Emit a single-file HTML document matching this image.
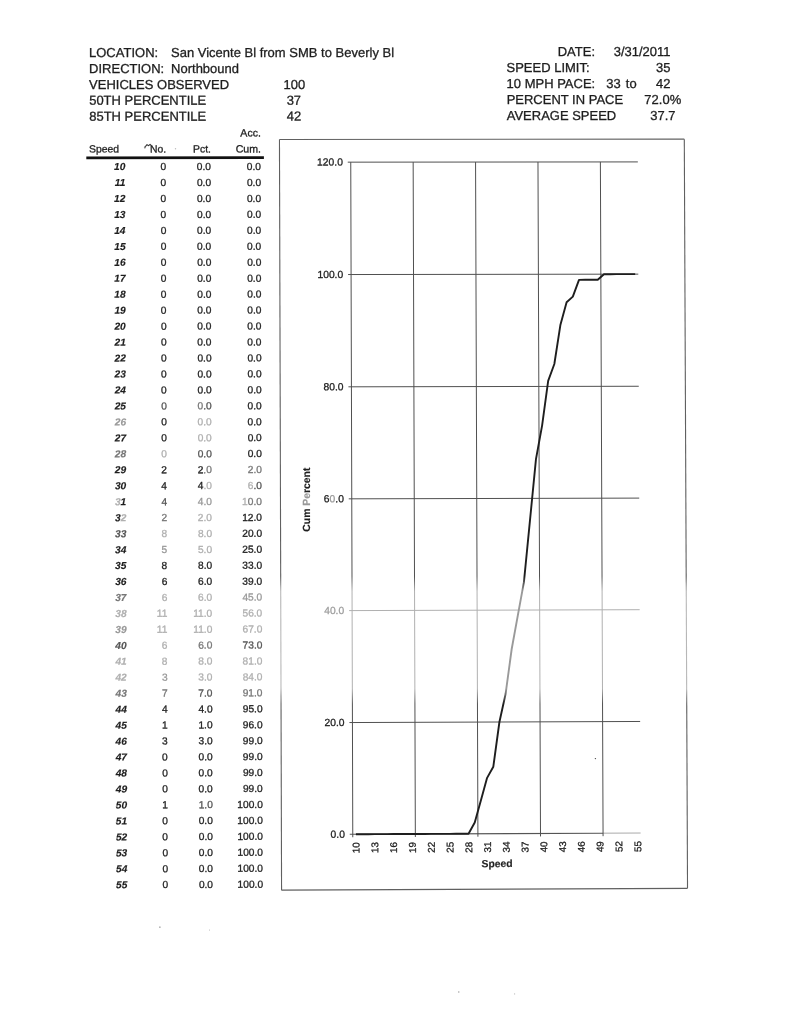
<!DOCTYPE html>
<html><head><meta charset="utf-8"><title>Speed Survey</title>
<style>
html,body{margin:0;padding:0;background:#fff;}
body{width:790px;height:1023px;overflow:hidden;}
svg{display:block;}
text{font-family:"Liberation Sans",Arial,sans-serif;}
</style></head>
<body>
<svg width="790" height="1023" viewBox="0 0 790 1023">
<g font-size="10.2" fill="#1e1e1e" stroke="#1e1e1e" stroke-width="0">
<text transform="matrix(1 -0.00028 0.00280 1 89.03 56.71)" font-size="13.0" stroke-width="0.3">LOCATION:</text>
<text transform="matrix(1 -0.00028 0.00280 1 171.03 56.69)" font-size="13.0" stroke-width="0.3">San Vicente Bl from SMB to Beverly Bl</text>
<text transform="matrix(1 -0.00036 0.00280 1 89.07 72.84)" font-size="13.0" stroke-width="0.3">DIRECTION:</text>
<text transform="matrix(1 -0.00036 0.00280 1 171.07 72.81)" font-size="13.0" stroke-width="0.3">Northbound</text>
<text transform="matrix(1 -0.00044 0.00280 1 89.12 88.77)" font-size="13.0" stroke-width="0.3">VEHICLES OBSERVED</text>
<text transform="matrix(1 -0.00044 0.00280 1 294.32 88.68)" text-anchor="middle" font-size="13.0" stroke-width="0.3">100</text>
<text transform="matrix(1 -0.00052 0.00280 1 89.16 104.80)" font-size="13.0" stroke-width="0.3">50TH PERCENTILE</text>
<text transform="matrix(1 -0.00052 0.00280 1 293.86 104.70)" text-anchor="middle" font-size="13.0" stroke-width="0.3">37</text>
<text transform="matrix(1 -0.00061 0.00280 1 89.21 120.74)" font-size="13.0" stroke-width="0.3">85TH PERCENTILE</text>
<text transform="matrix(1 -0.00061 0.00280 1 293.91 120.61)" text-anchor="middle" font-size="13.0" stroke-width="0.3">42</text>
<text transform="matrix(1 -0.00028 0.00396 1 595.00 56.07)" text-anchor="end" font-size="13.0" stroke-width="0.3">DATE:</text>
<text transform="matrix(1 -0.00028 0.00425 1 670.56 56.05)" text-anchor="end" font-size="13.0" stroke-width="0.3">3/31/2011</text>
<text transform="matrix(1 -0.00036 0.00361 1 506.51 72.19)" font-size="13.0" stroke-width="0.3">SPEED LIMIT:</text>
<text transform="matrix(1 -0.00036 0.00422 1 663.14 72.13)" text-anchor="middle" font-size="13.0" stroke-width="0.3">35</text>
<text transform="matrix(1 -0.00044 0.00361 1 506.57 88.09)" font-size="13.0" stroke-width="0.3">10 MPH PACE:</text>
<text transform="matrix(1 -0.00044 0.00400 1 606.31 88.04)" font-size="13.0" stroke-width="0.3">33</text>
<text transform="matrix(1 -0.00044 0.00408 1 625.77 88.04)" font-size="13.0" stroke-width="0.3">to</text>
<text transform="matrix(1 -0.00044 0.00422 1 663.21 88.02)" text-anchor="middle" font-size="13.0" stroke-width="0.3">42</text>
<text transform="matrix(1 -0.00052 0.00361 1 506.63 104.09)" font-size="13.0" stroke-width="0.3">PERCENT IN PACE</text>
<text transform="matrix(1 -0.00052 0.00422 1 662.78 104.00)" text-anchor="middle" font-size="13.0" stroke-width="0.3">72.0%</text>
<text transform="matrix(1 -0.00060 0.00361 1 506.69 119.98)" font-size="13.0" stroke-width="0.3">AVERAGE SPEED</text>
<text transform="matrix(1 -0.00060 0.00422 1 662.85 119.89)" text-anchor="middle" font-size="13.0" stroke-width="0.3">37.7</text>
<text transform="matrix(1 -0.00069 0.00280 1 260.95 136.55)" text-anchor="end" font-size="10.6" stroke-width="0.3">Acc.</text>
<text transform="matrix(1 -0.00077 0.00280 1 88.99 152.60)" font-size="10.4" stroke-width="0.3">Speed</text>
<text transform="matrix(1 -0.00077 0.00280 1 166.09 152.54)" text-anchor="end" font-size="10.4" stroke-width="0.3">No.</text>
<text transform="matrix(1 -0.00077 0.00280 1 210.99 152.51)" text-anchor="end" font-size="10.4" stroke-width="0.3">Pct.</text>
<text transform="matrix(1 -0.00077 0.00280 1 260.99 152.47)" text-anchor="end" font-size="10.6" stroke-width="0.3">Cum.</text>
<path d="M144.3 147.9 L147.0 144.6 L148.6 145.7 L150.1 144.3 L151.4 145.6" fill="none" stroke="#333" stroke-width="1.05" stroke-linejoin="round"/>
<circle cx="144.9" cy="147.4" r="1.0" fill="#888"/>
<circle cx="175.5" cy="148.8" r="0.7" fill="#bbb"/>
<line x1="86.31" y1="157.81" x2="263.91" y2="157.67" stroke="#111" stroke-width="2.8"/>
<text transform="matrix(1 -0.00086 0.00280 1 125.34 170.10)" text-anchor="end" font-weight="bold" stroke-width="0.15" font-style="italic">10</text>
<text transform="matrix(1 -0.00086 0.00280 1 166.14 170.07)" text-anchor="end" stroke-width="0.3">0</text>
<text transform="matrix(1 -0.00086 0.00280 1 211.04 170.03)" text-anchor="end" stroke-width="0.3">0.0</text>
<text transform="matrix(1 -0.00086 0.00280 1 261.04 169.99)" text-anchor="end" stroke-width="0.3">0.0</text>
<text transform="matrix(1 -0.00094 0.00280 1 125.39 186.06)" text-anchor="end" font-weight="bold" stroke-width="0.15" font-style="italic">11</text>
<text transform="matrix(1 -0.00094 0.00280 1 166.19 186.02)" text-anchor="end" stroke-width="0.3">0</text>
<text transform="matrix(1 -0.00094 0.00280 1 211.09 185.98)" text-anchor="end" stroke-width="0.3">0.0</text>
<text transform="matrix(1 -0.00094 0.00280 1 261.09 185.93)" text-anchor="end" stroke-width="0.3">0.0</text>
<text transform="matrix(1 -0.00102 0.00280 1 125.43 202.02)" text-anchor="end" font-weight="bold" stroke-width="0.15" font-style="italic">12</text>
<text transform="matrix(1 -0.00102 0.00280 1 166.23 201.98)" text-anchor="end" stroke-width="0.3">0</text>
<text transform="matrix(1 -0.00102 0.00280 1 211.13 201.93)" text-anchor="end" stroke-width="0.3">0.0</text>
<text transform="matrix(1 -0.00102 0.00280 1 261.13 201.88)" text-anchor="end" stroke-width="0.3">0.0</text>
<text transform="matrix(1 -0.00110 0.00280 1 125.48 217.98)" text-anchor="end" font-weight="bold" stroke-width="0.15" font-style="italic">13</text>
<text transform="matrix(1 -0.00110 0.00280 1 166.28 217.93)" text-anchor="end" stroke-width="0.3">0</text>
<text transform="matrix(1 -0.00110 0.00280 1 211.18 217.89)" text-anchor="end" stroke-width="0.3">0.0</text>
<text transform="matrix(1 -0.00110 0.00280 1 261.18 217.83)" text-anchor="end" stroke-width="0.3">0.0</text>
<text transform="matrix(1 -0.00118 0.00280 1 125.52 233.94)" text-anchor="end" font-weight="bold" stroke-width="0.15" font-style="italic">14</text>
<text transform="matrix(1 -0.00118 0.00280 1 166.32 233.89)" text-anchor="end" stroke-width="0.3">0</text>
<text transform="matrix(1 -0.00118 0.00280 1 211.22 233.84)" text-anchor="end" stroke-width="0.3">0.0</text>
<text transform="matrix(1 -0.00118 0.00280 1 261.22 233.78)" text-anchor="end" stroke-width="0.3">0.0</text>
<text transform="matrix(1 -0.00126 0.00280 1 125.57 249.90)" text-anchor="end" font-weight="bold" stroke-width="0.15" font-style="italic">15</text>
<text transform="matrix(1 -0.00126 0.00280 1 166.37 249.85)" text-anchor="end" stroke-width="0.3">0</text>
<text transform="matrix(1 -0.00126 0.00280 1 211.27 249.79)" text-anchor="end" stroke-width="0.3">0.0</text>
<text transform="matrix(1 -0.00126 0.00280 1 261.27 249.73)" text-anchor="end" stroke-width="0.3">0.0</text>
<text transform="matrix(1 -0.00134 0.00280 1 125.61 265.86)" text-anchor="end" font-weight="bold" stroke-width="0.15" font-style="italic">16</text>
<text transform="matrix(1 -0.00134 0.00280 1 166.41 265.80)" text-anchor="end" stroke-width="0.3">0</text>
<text transform="matrix(1 -0.00134 0.00280 1 211.31 265.74)" text-anchor="end" stroke-width="0.3">0.0</text>
<text transform="matrix(1 -0.00134 0.00280 1 261.31 265.67)" text-anchor="end" stroke-width="0.3">0.0</text>
<text transform="matrix(1 -0.00143 0.00280 1 125.66 281.81)" text-anchor="end" font-weight="bold" stroke-width="0.15" font-style="italic">17</text>
<text transform="matrix(1 -0.00143 0.00280 1 166.46 281.76)" text-anchor="end" stroke-width="0.3">0</text>
<text transform="matrix(1 -0.00143 0.00280 1 211.36 281.69)" text-anchor="end" stroke-width="0.3">0.0</text>
<text transform="matrix(1 -0.00143 0.00280 1 261.36 281.62)" text-anchor="end" stroke-width="0.3">0.0</text>
<text transform="matrix(1 -0.00151 0.00280 1 125.70 297.77)" text-anchor="end" font-weight="bold" stroke-width="0.15" font-style="italic">18</text>
<text transform="matrix(1 -0.00151 0.00280 1 166.50 297.71)" text-anchor="end" stroke-width="0.3">0</text>
<text transform="matrix(1 -0.00151 0.00280 1 211.40 297.64)" text-anchor="end" stroke-width="0.3">0.0</text>
<text transform="matrix(1 -0.00151 0.00280 1 261.40 297.57)" text-anchor="end" stroke-width="0.3">0.0</text>
<text transform="matrix(1 -0.00159 0.00280 1 125.74 313.73)" text-anchor="end" font-weight="bold" stroke-width="0.15" font-style="italic">19</text>
<text transform="matrix(1 -0.00159 0.00280 1 166.54 313.67)" text-anchor="end" stroke-width="0.3">0</text>
<text transform="matrix(1 -0.00159 0.00280 1 211.44 313.60)" text-anchor="end" stroke-width="0.3">0.0</text>
<text transform="matrix(1 -0.00159 0.00280 1 261.44 313.52)" text-anchor="end" stroke-width="0.3">0.0</text>
<text transform="matrix(1 -0.00167 0.00280 1 125.79 329.69)" text-anchor="end" font-weight="bold" stroke-width="0.15" font-style="italic">20</text>
<text transform="matrix(1 -0.00167 0.00280 1 166.59 329.62)" text-anchor="end" stroke-width="0.3">0</text>
<text transform="matrix(1 -0.00167 0.00280 1 211.49 329.55)" text-anchor="end" stroke-width="0.3">0.0</text>
<text transform="matrix(1 -0.00167 0.00280 1 261.49 329.46)" text-anchor="end" stroke-width="0.3">0.0</text>
<text transform="matrix(1 -0.00175 0.00280 1 125.83 345.65)" text-anchor="end" font-weight="bold" stroke-width="0.15" font-style="italic">21</text>
<text transform="matrix(1 -0.00175 0.00280 1 166.63 345.58)" text-anchor="end" stroke-width="0.3">0</text>
<text transform="matrix(1 -0.00175 0.00280 1 211.53 345.50)" text-anchor="end" stroke-width="0.3">0.0</text>
<text transform="matrix(1 -0.00175 0.00280 1 261.53 345.41)" text-anchor="end" stroke-width="0.3">0.0</text>
<text transform="matrix(1 -0.00183 0.00280 1 125.88 361.61)" text-anchor="end" font-weight="bold" stroke-width="0.15" font-style="italic">22</text>
<text transform="matrix(1 -0.00183 0.00280 1 166.68 361.53)" text-anchor="end" stroke-width="0.3">0</text>
<text transform="matrix(1 -0.00183 0.00280 1 211.58 361.45)" text-anchor="end" stroke-width="0.3">0.0</text>
<text transform="matrix(1 -0.00183 0.00280 1 261.58 361.36)" text-anchor="end" stroke-width="0.3">0.0</text>
<text transform="matrix(1 -0.00191 0.00280 1 125.92 377.57)" text-anchor="end" font-weight="bold" stroke-width="0.15" font-style="italic">23</text>
<text transform="matrix(1 -0.00191 0.00280 1 166.72 377.49)" text-anchor="end" stroke-width="0.3">0</text>
<text transform="matrix(1 -0.00191 0.00280 1 211.62 377.40)" text-anchor="end" stroke-width="0.3">0.0</text>
<text transform="matrix(1 -0.00191 0.00280 1 261.62 377.31)" text-anchor="end" stroke-width="0.3">0.0</text>
<text transform="matrix(1 -0.00199 0.00280 1 125.97 393.53)" text-anchor="end" font-weight="bold" stroke-width="0.15" font-style="italic">24</text>
<text transform="matrix(1 -0.00199 0.00280 1 166.77 393.44)" text-anchor="end" stroke-width="0.3">0</text>
<text transform="matrix(1 -0.00199 0.00280 1 211.67 393.35)" text-anchor="end" stroke-width="0.3">0.0</text>
<text transform="matrix(1 -0.00199 0.00280 1 261.67 393.25)" text-anchor="end" stroke-width="0.3">0.0</text>
<text transform="matrix(1 -0.00208 0.00280 1 126.01 409.48)" text-anchor="end" font-weight="bold" stroke-width="0.15" font-style="italic">25</text>
<text transform="matrix(1 -0.00208 0.00280 1 166.81 409.40)" text-anchor="end" stroke-width="0.3" fill="#555" stroke="#555">0</text>
<text transform="matrix(1 -0.00208 0.00280 1 211.71 409.31)" text-anchor="end" stroke-width="0.3"><tspan fill="#777" stroke="#777">0</tspan><tspan fill="#555" stroke="#555">.</tspan><tspan fill="#555" stroke="#555">0</tspan></text>
<text transform="matrix(1 -0.00208 0.00280 1 261.71 409.20)" text-anchor="end" stroke-width="0.3">0.0</text>
<text transform="matrix(1 -0.00216 0.00280 1 126.06 425.44)" text-anchor="end" font-weight="bold" stroke-width="0.15" font-style="italic" fill="#999" stroke="#999">26</text>
<text transform="matrix(1 -0.00216 0.00280 1 166.86 425.35)" text-anchor="end" stroke-width="0.3">0</text>
<text transform="matrix(1 -0.00216 0.00280 1 211.76 425.26)" text-anchor="end" stroke-width="0.3" fill="#b0b0b0" stroke="#b0b0b0">0.0</text>
<text transform="matrix(1 -0.00216 0.00280 1 261.76 425.15)" text-anchor="end" stroke-width="0.3">0.0</text>
<text transform="matrix(1 -0.00224 0.00280 1 126.10 441.40)" text-anchor="end" font-weight="bold" stroke-width="0.15" font-style="italic">27</text>
<text transform="matrix(1 -0.00224 0.00280 1 166.90 441.31)" text-anchor="end" stroke-width="0.3">0</text>
<text transform="matrix(1 -0.00224 0.00280 1 211.80 441.21)" text-anchor="end" stroke-width="0.3" fill="#b0b0b0" stroke="#b0b0b0">0.0</text>
<text transform="matrix(1 -0.00224 0.00280 1 261.80 441.10)" text-anchor="end" stroke-width="0.3">0.0</text>
<text transform="matrix(1 -0.00232 0.00280 1 126.15 457.36)" text-anchor="end" font-weight="bold" stroke-width="0.15" font-style="italic" fill="#777" stroke="#777">28</text>
<text transform="matrix(1 -0.00232 0.00280 1 166.95 457.27)" text-anchor="end" stroke-width="0.3" fill="#b0b0b0" stroke="#b0b0b0">0</text>
<text transform="matrix(1 -0.00232 0.00280 1 211.85 457.16)" text-anchor="end" stroke-width="0.3" fill="#555" stroke="#555">0.0</text>
<text transform="matrix(1 -0.00232 0.00280 1 261.85 457.05)" text-anchor="end" stroke-width="0.3">0.0</text>
<text transform="matrix(1 -0.00240 0.00280 1 126.19 473.32)" text-anchor="end" font-weight="bold" stroke-width="0.15" font-style="italic">29</text>
<text transform="matrix(1 -0.00240 0.00280 1 166.99 473.22)" text-anchor="end" stroke-width="0.3">2</text>
<text transform="matrix(1 -0.00240 0.00280 1 211.89 473.11)" text-anchor="end" stroke-width="0.3">2<tspan fill="#777" stroke="#777">.</tspan><tspan fill="#777" stroke="#777">0</tspan></text>
<text transform="matrix(1 -0.00240 0.00280 1 261.89 472.99)" text-anchor="end" stroke-width="0.3" fill="#777" stroke="#777">2.0</text>
<text transform="matrix(1 -0.00248 0.00280 1 126.24 489.28)" text-anchor="end" font-weight="bold" stroke-width="0.15" font-style="italic">30</text>
<text transform="matrix(1 -0.00248 0.00280 1 167.04 489.18)" text-anchor="end" stroke-width="0.3">4</text>
<text transform="matrix(1 -0.00248 0.00280 1 211.94 489.07)" text-anchor="end" stroke-width="0.3">4<tspan fill="#b0b0b0" stroke="#b0b0b0">.</tspan><tspan fill="#b0b0b0" stroke="#b0b0b0">0</tspan></text>
<text transform="matrix(1 -0.00248 0.00280 1 261.94 488.94)" text-anchor="end" stroke-width="0.3"><tspan fill="#b0b0b0" stroke="#b0b0b0">6</tspan><tspan fill="#555" stroke="#555">.</tspan><tspan fill="#555" stroke="#555">0</tspan></text>
<text transform="matrix(1 -0.00256 0.00280 1 126.28 505.24)" text-anchor="end" font-weight="bold" stroke-width="0.15" font-style="italic"><tspan fill="#b0b0b0" stroke="#b0b0b0">3</tspan>1</text>
<text transform="matrix(1 -0.00256 0.00280 1 167.08 505.13)" text-anchor="end" stroke-width="0.3" fill="#555" stroke="#555">4</text>
<text transform="matrix(1 -0.00256 0.00280 1 211.98 505.02)" text-anchor="end" stroke-width="0.3" fill="#999" stroke="#999">4.0</text>
<text transform="matrix(1 -0.00256 0.00280 1 261.98 504.89)" text-anchor="end" stroke-width="0.3"><tspan fill="#b0b0b0" stroke="#b0b0b0">1</tspan><tspan fill="#777" stroke="#777">0</tspan><tspan fill="#777" stroke="#777">.</tspan><tspan fill="#777" stroke="#777">0</tspan></text>
<text transform="matrix(1 -0.00264 0.00280 1 126.32 521.20)" text-anchor="end" font-weight="bold" stroke-width="0.15" font-style="italic">3<tspan fill="#b0b0b0" stroke="#b0b0b0">2</tspan></text>
<text transform="matrix(1 -0.00264 0.00280 1 167.12 521.09)" text-anchor="end" stroke-width="0.3" fill="#777" stroke="#777">2</text>
<text transform="matrix(1 -0.00264 0.00280 1 212.02 520.97)" text-anchor="end" stroke-width="0.3" fill="#b0b0b0" stroke="#b0b0b0">2.0</text>
<text transform="matrix(1 -0.00264 0.00280 1 262.02 520.84)" text-anchor="end" stroke-width="0.3">12.0</text>
<text transform="matrix(1 -0.00273 0.00280 1 126.37 537.15)" text-anchor="end" font-weight="bold" stroke-width="0.15" font-style="italic" fill="#555" stroke="#555">33</text>
<text transform="matrix(1 -0.00273 0.00280 1 167.17 537.04)" text-anchor="end" stroke-width="0.3" fill="#b0b0b0" stroke="#b0b0b0">8</text>
<text transform="matrix(1 -0.00273 0.00280 1 212.07 536.92)" text-anchor="end" stroke-width="0.3" fill="#b0b0b0" stroke="#b0b0b0">8.0</text>
<text transform="matrix(1 -0.00273 0.00280 1 262.07 536.78)" text-anchor="end" stroke-width="0.3">20.0</text>
<text transform="matrix(1 -0.00281 0.00280 1 126.41 553.11)" text-anchor="end" font-weight="bold" stroke-width="0.15" font-style="italic">34</text>
<text transform="matrix(1 -0.00281 0.00280 1 167.21 553.00)" text-anchor="end" stroke-width="0.3" fill="#999" stroke="#999">5</text>
<text transform="matrix(1 -0.00281 0.00280 1 212.11 552.87)" text-anchor="end" stroke-width="0.3" fill="#b0b0b0" stroke="#b0b0b0">5.0</text>
<text transform="matrix(1 -0.00281 0.00280 1 262.11 552.73)" text-anchor="end" stroke-width="0.3">25.0</text>
<text transform="matrix(1 -0.00289 0.00280 1 126.46 569.07)" text-anchor="end" font-weight="bold" stroke-width="0.15" font-style="italic">35</text>
<text transform="matrix(1 -0.00289 0.00280 1 167.26 568.95)" text-anchor="end" stroke-width="0.3">8</text>
<text transform="matrix(1 -0.00289 0.00280 1 212.16 568.82)" text-anchor="end" stroke-width="0.3">8.0</text>
<text transform="matrix(1 -0.00289 0.00280 1 262.16 568.68)" text-anchor="end" stroke-width="0.3">33.0</text>
<text transform="matrix(1 -0.00297 0.00280 1 126.50 585.03)" text-anchor="end" font-weight="bold" stroke-width="0.15" font-style="italic">36</text>
<text transform="matrix(1 -0.00297 0.00280 1 167.30 584.91)" text-anchor="end" stroke-width="0.3">6</text>
<text transform="matrix(1 -0.00297 0.00280 1 212.20 584.78)" text-anchor="end" stroke-width="0.3">6.0</text>
<text transform="matrix(1 -0.00297 0.00280 1 262.20 584.63)" text-anchor="end" stroke-width="0.3">39.0</text>
<text transform="matrix(1 -0.00305 0.00280 1 126.55 600.99)" text-anchor="end" font-weight="bold" stroke-width="0.15" font-style="italic" fill="#777" stroke="#777">37</text>
<text transform="matrix(1 -0.00305 0.00280 1 167.35 600.86)" text-anchor="end" stroke-width="0.3" fill="#b0b0b0" stroke="#b0b0b0">6</text>
<text transform="matrix(1 -0.00305 0.00280 1 212.25 600.73)" text-anchor="end" stroke-width="0.3" fill="#b0b0b0" stroke="#b0b0b0">6.0</text>
<text transform="matrix(1 -0.00305 0.00280 1 262.25 600.58)" text-anchor="end" stroke-width="0.3" fill="#999" stroke="#999">45.0</text>
<text transform="matrix(1 -0.00313 0.00280 1 126.59 616.95)" text-anchor="end" font-weight="bold" stroke-width="0.15" font-style="italic" fill="#b0b0b0" stroke="#b0b0b0">38</text>
<text transform="matrix(1 -0.00313 0.00280 1 167.39 616.82)" text-anchor="end" stroke-width="0.3" fill="#b0b0b0" stroke="#b0b0b0">11</text>
<text transform="matrix(1 -0.00313 0.00280 1 212.29 616.68)" text-anchor="end" stroke-width="0.3" fill="#b0b0b0" stroke="#b0b0b0">11.0</text>
<text transform="matrix(1 -0.00313 0.00280 1 262.29 616.52)" text-anchor="end" stroke-width="0.3" fill="#b0b0b0" stroke="#b0b0b0">56.0</text>
<text transform="matrix(1 -0.00321 0.00280 1 126.64 632.91)" text-anchor="end" font-weight="bold" stroke-width="0.15" font-style="italic" fill="#999" stroke="#999">39</text>
<text transform="matrix(1 -0.00321 0.00280 1 167.44 632.78)" text-anchor="end" stroke-width="0.3" fill="#b0b0b0" stroke="#b0b0b0">11</text>
<text transform="matrix(1 -0.00321 0.00280 1 212.34 632.63)" text-anchor="end" stroke-width="0.3" fill="#b0b0b0" stroke="#b0b0b0">11.0</text>
<text transform="matrix(1 -0.00321 0.00280 1 262.34 632.47)" text-anchor="end" stroke-width="0.3" fill="#b0b0b0" stroke="#b0b0b0">67.0</text>
<text transform="matrix(1 -0.00329 0.00280 1 126.68 648.87)" text-anchor="end" font-weight="bold" stroke-width="0.15" font-style="italic" fill="#555" stroke="#555">40</text>
<text transform="matrix(1 -0.00329 0.00280 1 167.48 648.73)" text-anchor="end" stroke-width="0.3" fill="#b0b0b0" stroke="#b0b0b0">6</text>
<text transform="matrix(1 -0.00329 0.00280 1 212.38 648.58)" text-anchor="end" stroke-width="0.3" fill="#777" stroke="#777">6.0</text>
<text transform="matrix(1 -0.00329 0.00280 1 262.38 648.42)" text-anchor="end" stroke-width="0.3" fill="#555" stroke="#555">73.0</text>
<text transform="matrix(1 -0.00338 0.00280 1 126.73 664.82)" text-anchor="end" font-weight="bold" stroke-width="0.15" font-style="italic" fill="#b0b0b0" stroke="#b0b0b0">41</text>
<text transform="matrix(1 -0.00338 0.00280 1 167.53 664.69)" text-anchor="end" stroke-width="0.3" fill="#b0b0b0" stroke="#b0b0b0">8</text>
<text transform="matrix(1 -0.00338 0.00280 1 212.43 664.53)" text-anchor="end" stroke-width="0.3" fill="#b0b0b0" stroke="#b0b0b0">8.0</text>
<text transform="matrix(1 -0.00338 0.00280 1 262.43 664.37)" text-anchor="end" stroke-width="0.3" fill="#b0b0b0" stroke="#b0b0b0">81.0</text>
<text transform="matrix(1 -0.00346 0.00280 1 126.77 680.78)" text-anchor="end" font-weight="bold" stroke-width="0.15" font-style="italic" fill="#b0b0b0" stroke="#b0b0b0">42</text>
<text transform="matrix(1 -0.00346 0.00280 1 167.57 680.64)" text-anchor="end" stroke-width="0.3" fill="#999" stroke="#999">3</text>
<text transform="matrix(1 -0.00346 0.00280 1 212.47 680.49)" text-anchor="end" stroke-width="0.3" fill="#b0b0b0" stroke="#b0b0b0">3.0</text>
<text transform="matrix(1 -0.00346 0.00280 1 262.47 680.31)" text-anchor="end" stroke-width="0.3" fill="#b0b0b0" stroke="#b0b0b0">84.0</text>
<text transform="matrix(1 -0.00354 0.00280 1 126.82 696.74)" text-anchor="end" font-weight="bold" stroke-width="0.15" font-style="italic" fill="#777" stroke="#777">43</text>
<text transform="matrix(1 -0.00354 0.00280 1 167.62 696.60)" text-anchor="end" stroke-width="0.3" fill="#777" stroke="#777">7</text>
<text transform="matrix(1 -0.00354 0.00280 1 212.52 696.44)" text-anchor="end" stroke-width="0.3" fill="#555" stroke="#555">7.0</text>
<text transform="matrix(1 -0.00354 0.00280 1 262.52 696.26)" text-anchor="end" stroke-width="0.3" fill="#777" stroke="#777">91.0</text>
<text transform="matrix(1 -0.00362 0.00280 1 126.86 712.70)" text-anchor="end" font-weight="bold" stroke-width="0.15" font-style="italic">44</text>
<text transform="matrix(1 -0.00362 0.00280 1 167.66 712.55)" text-anchor="end" stroke-width="0.3">4</text>
<text transform="matrix(1 -0.00362 0.00280 1 212.56 712.39)" text-anchor="end" stroke-width="0.3">4.0</text>
<text transform="matrix(1 -0.00362 0.00280 1 262.56 712.21)" text-anchor="end" stroke-width="0.3">95.0</text>
<text transform="matrix(1 -0.00370 0.00280 1 126.90 728.66)" text-anchor="end" font-weight="bold" stroke-width="0.15" font-style="italic">45</text>
<text transform="matrix(1 -0.00370 0.00280 1 167.70 728.51)" text-anchor="end" stroke-width="0.3">1</text>
<text transform="matrix(1 -0.00370 0.00280 1 212.60 728.34)" text-anchor="end" stroke-width="0.3">1.0</text>
<text transform="matrix(1 -0.00370 0.00280 1 262.60 728.16)" text-anchor="end" stroke-width="0.3">96.0</text>
<text transform="matrix(1 -0.00378 0.00280 1 126.95 744.62)" text-anchor="end" font-weight="bold" stroke-width="0.15" font-style="italic">46</text>
<text transform="matrix(1 -0.00378 0.00280 1 167.75 744.46)" text-anchor="end" stroke-width="0.3">3</text>
<text transform="matrix(1 -0.00378 0.00280 1 212.65 744.29)" text-anchor="end" stroke-width="0.3">3.0</text>
<text transform="matrix(1 -0.00378 0.00280 1 262.65 744.10)" text-anchor="end" stroke-width="0.3">99.0</text>
<text transform="matrix(1 -0.00386 0.00280 1 126.99 760.58)" text-anchor="end" font-weight="bold" stroke-width="0.15" font-style="italic">47</text>
<text transform="matrix(1 -0.00386 0.00280 1 167.79 760.42)" text-anchor="end" stroke-width="0.3">0</text>
<text transform="matrix(1 -0.00386 0.00280 1 212.69 760.25)" text-anchor="end" stroke-width="0.3">0.0</text>
<text transform="matrix(1 -0.00386 0.00280 1 262.69 760.05)" text-anchor="end" stroke-width="0.3">99.0</text>
<text transform="matrix(1 -0.00394 0.00280 1 127.04 776.54)" text-anchor="end" font-weight="bold" stroke-width="0.15" font-style="italic">48</text>
<text transform="matrix(1 -0.00394 0.00280 1 167.84 776.37)" text-anchor="end" stroke-width="0.3">0</text>
<text transform="matrix(1 -0.00394 0.00280 1 212.74 776.20)" text-anchor="end" stroke-width="0.3">0.0</text>
<text transform="matrix(1 -0.00394 0.00280 1 262.74 776.00)" text-anchor="end" stroke-width="0.3">99.0</text>
<text transform="matrix(1 -0.00403 0.00280 1 127.08 792.49)" text-anchor="end" font-weight="bold" stroke-width="0.15" font-style="italic">49</text>
<text transform="matrix(1 -0.00403 0.00280 1 167.88 792.33)" text-anchor="end" stroke-width="0.3">0</text>
<text transform="matrix(1 -0.00403 0.00280 1 212.78 792.15)" text-anchor="end" stroke-width="0.3">0.0</text>
<text transform="matrix(1 -0.00403 0.00280 1 262.78 791.95)" text-anchor="end" stroke-width="0.3">99.0</text>
<text transform="matrix(1 -0.00411 0.00280 1 127.13 808.45)" text-anchor="end" font-weight="bold" stroke-width="0.15" font-style="italic">50</text>
<text transform="matrix(1 -0.00411 0.00280 1 167.93 808.29)" text-anchor="end" stroke-width="0.3">1</text>
<text transform="matrix(1 -0.00411 0.00280 1 212.83 808.10)" text-anchor="end" stroke-width="0.3" fill="#555" stroke="#555">1.0</text>
<text transform="matrix(1 -0.00411 0.00280 1 262.83 807.90)" text-anchor="end" stroke-width="0.3">100.0</text>
<text transform="matrix(1 -0.00419 0.00280 1 127.17 824.41)" text-anchor="end" font-weight="bold" stroke-width="0.15" font-style="italic">51</text>
<text transform="matrix(1 -0.00419 0.00280 1 167.97 824.24)" text-anchor="end" stroke-width="0.3">0</text>
<text transform="matrix(1 -0.00419 0.00280 1 212.87 824.05)" text-anchor="end" stroke-width="0.3">0.0</text>
<text transform="matrix(1 -0.00419 0.00280 1 262.87 823.84)" text-anchor="end" stroke-width="0.3">100.0</text>
<text transform="matrix(1 -0.00427 0.00280 1 127.22 840.37)" text-anchor="end" font-weight="bold" stroke-width="0.15" font-style="italic">52</text>
<text transform="matrix(1 -0.00427 0.00280 1 168.02 840.20)" text-anchor="end" stroke-width="0.3">0</text>
<text transform="matrix(1 -0.00427 0.00280 1 212.92 840.00)" text-anchor="end" stroke-width="0.3">0.0</text>
<text transform="matrix(1 -0.00427 0.00280 1 262.92 839.79)" text-anchor="end" stroke-width="0.3">100.0</text>
<text transform="matrix(1 -0.00435 0.00280 1 127.26 856.33)" text-anchor="end" font-weight="bold" stroke-width="0.15" font-style="italic">53</text>
<text transform="matrix(1 -0.00435 0.00280 1 168.06 856.15)" text-anchor="end" stroke-width="0.3">0</text>
<text transform="matrix(1 -0.00435 0.00280 1 212.96 855.96)" text-anchor="end" stroke-width="0.3">0.0</text>
<text transform="matrix(1 -0.00435 0.00280 1 262.96 855.74)" text-anchor="end" stroke-width="0.3">100.0</text>
<text transform="matrix(1 -0.00443 0.00280 1 127.31 872.29)" text-anchor="end" font-weight="bold" stroke-width="0.15" font-style="italic">54</text>
<text transform="matrix(1 -0.00443 0.00280 1 168.11 872.11)" text-anchor="end" stroke-width="0.3">0</text>
<text transform="matrix(1 -0.00443 0.00280 1 213.01 871.91)" text-anchor="end" stroke-width="0.3">0.0</text>
<text transform="matrix(1 -0.00443 0.00280 1 263.01 871.69)" text-anchor="end" stroke-width="0.3">100.0</text>
<text transform="matrix(1 -0.00451 0.00280 1 127.35 888.25)" text-anchor="end" font-weight="bold" stroke-width="0.15" font-style="italic">55</text>
<text transform="matrix(1 -0.00451 0.00280 1 168.15 888.06)" text-anchor="end" stroke-width="0.3">0</text>
<text transform="matrix(1 -0.00451 0.00280 1 213.05 887.86)" text-anchor="end" stroke-width="0.3">0.0</text>
<text transform="matrix(1 -0.00451 0.00280 1 263.05 887.63)" text-anchor="end" stroke-width="0.3">100.0</text>
<line x1="279.46" y1="139.44" x2="684.30" y2="139.16" stroke="#606060" stroke-width="1.1"/>
<line x1="281.56" y1="890.16" x2="687.53" y2="888.33" stroke="#606060" stroke-width="1.1"/>
<line x1="279.46" y1="139.44" x2="281.56" y2="890.16" stroke="#606060" stroke-width="1.1"/>
<line x1="684.30" y1="139.16" x2="687.53" y2="888.33" stroke="#606060" stroke-width="1.1"/>
<line x1="349.76" y1="834.26" x2="603.06" y2="833.18" stroke="#555" stroke-width="1.1"/>
<line x1="603.06" y1="833.18" x2="640.61" y2="833.02" stroke="#aaa" stroke-width="1.0"/>
<text transform="matrix(1 -0.00426 0.00297 1 344.87 837.68)" text-anchor="end" font-size="10.3" stroke-width="0.3">0.0</text>
<line x1="349.43" y1="722.55" x2="640.15" y2="721.48" stroke="#505050" stroke-width="1.0"/>
<text transform="matrix(1 -0.00369 0.00297 1 344.54 725.97)" text-anchor="end" font-size="10.3" stroke-width="0.3">20.0</text>
<line x1="349.10" y1="610.60" x2="639.68" y2="609.70" stroke="#505050" stroke-width="1.0"/>
<text transform="matrix(1 -0.00312 0.00297 1 344.20 614.01)" text-anchor="end" font-size="10.3" stroke-width="0.3">40.0</text>
<line x1="348.76" y1="498.83" x2="639.22" y2="498.10" stroke="#505050" stroke-width="1.0"/>
<text transform="matrix(1 -0.00255 0.00297 1 343.87 502.25)" text-anchor="end" font-size="10.3" stroke-width="0.3">6<tspan fill="#999" stroke="#999">0</tspan>.0</text>
<line x1="348.43" y1="386.82" x2="638.76" y2="386.25" stroke="#505050" stroke-width="1.0"/>
<text transform="matrix(1 -0.00198 0.00297 1 343.54 390.23)" text-anchor="end" font-size="10.3" stroke-width="0.3">80.0</text>
<line x1="348.09" y1="274.54" x2="638.30" y2="274.14" stroke="#505050" stroke-width="1.0"/>
<text transform="matrix(1 -0.00141 0.00297 1 343.21 277.95)" text-anchor="end" font-size="10.3" stroke-width="0.3">100.0</text>
<line x1="347.76" y1="162.16" x2="637.84" y2="161.92" stroke="#505050" stroke-width="1.0"/>
<text transform="matrix(1 -0.00083 0.00297 1 342.87 165.56)" text-anchor="end" font-size="10.3" stroke-width="0.3">120.0</text>
<line x1="413.16" y1="162.10" x2="415.35" y2="836.98" stroke="#505050" stroke-width="1.0"/>
<line x1="475.57" y1="162.05" x2="477.92" y2="836.71" stroke="#505050" stroke-width="1.0"/>
<line x1="537.98" y1="162.00" x2="540.50" y2="836.45" stroke="#505050" stroke-width="1.0"/>
<line x1="600.39" y1="161.95" x2="603.07" y2="836.18" stroke="#505050" stroke-width="1.0"/>
<line x1="350.75" y1="162.15" x2="352.78" y2="837.25" stroke="#505050" stroke-width="1.0"/>
<text transform="matrix(1 -0.00428 0.00303 1 359.52 842.22) rotate(-90)" text-anchor="end" font-size="9.8" stroke-width="0.3">10</text>
<text transform="matrix(1 -0.00428 0.00310 1 378.30 842.14) rotate(-90)" text-anchor="end" font-size="9.8" stroke-width="0.3">13</text>
<text transform="matrix(1 -0.00428 0.00317 1 397.07 842.06) rotate(-90)" text-anchor="end" font-size="9.8" stroke-width="0.3">16</text>
<text transform="matrix(1 -0.00428 0.00325 1 415.84 841.98) rotate(-90)" text-anchor="end" font-size="9.8" stroke-width="0.3">19</text>
<text transform="matrix(1 -0.00428 0.00332 1 434.62 841.90) rotate(-90)" text-anchor="end" font-size="9.8" stroke-width="0.3">22</text>
<text transform="matrix(1 -0.00428 0.00339 1 453.39 841.82) rotate(-90)" text-anchor="end" font-size="9.8" stroke-width="0.3">25</text>
<text transform="matrix(1 -0.00428 0.00347 1 472.16 841.74) rotate(-90)" text-anchor="end" font-size="9.8" stroke-width="0.3">28</text>
<text transform="matrix(1 -0.00428 0.00354 1 490.93 841.66) rotate(-90)" text-anchor="end" font-size="9.8" stroke-width="0.3">31</text>
<text transform="matrix(1 -0.00428 0.00361 1 509.71 841.58) rotate(-90)" text-anchor="end" font-size="9.8" stroke-width="0.3">34</text>
<text transform="matrix(1 -0.00428 0.00369 1 528.48 841.50) rotate(-90)" text-anchor="end" font-size="9.8" stroke-width="0.3">37</text>
<text transform="matrix(1 -0.00428 0.00376 1 547.25 841.42) rotate(-90)" text-anchor="end" font-size="9.8" stroke-width="0.3">40</text>
<text transform="matrix(1 -0.00428 0.00383 1 566.02 841.34) rotate(-90)" text-anchor="end" font-size="9.8" stroke-width="0.3">43</text>
<text transform="matrix(1 -0.00428 0.00391 1 584.80 841.26) rotate(-90)" text-anchor="end" font-size="9.8" stroke-width="0.3">46</text>
<text transform="matrix(1 -0.00428 0.00398 1 603.57 841.18) rotate(-90)" text-anchor="end" font-size="9.8" stroke-width="0.3">49</text>
<text transform="matrix(1 -0.00428 0.00405 1 622.34 841.10) rotate(-90)" text-anchor="end" font-size="9.8" stroke-width="0.3">52</text>
<text transform="matrix(1 -0.00428 0.00413 1 641.11 841.02) rotate(-90)" text-anchor="end" font-size="9.8" stroke-width="0.3">55</text>
<text transform="matrix(1 -0.00441 0.00356 1 497.07 867.13)" text-anchor="middle" font-size="10.4" font-weight="bold" stroke-width="0.15">Speed</text>
<text transform="matrix(1 -0.00254 0.00284 1 309.97 499.63) rotate(-90)" text-anchor="middle" font-size="10.4" font-weight="bold" stroke-width="0.15">Cum <tspan fill="#999" stroke="#999">Pe</tspan>rcent</text>
<polyline points="355.90,834.23 362.15,834.20 368.41,834.18 374.67,834.15 380.93,834.12 387.18,834.10 393.44,834.07 399.70,834.05 405.95,834.02 412.21,833.99 418.47,833.97 424.73,833.94 430.98,833.91 437.24,833.89 443.50,833.86 449.76,833.83 456.01,833.81 462.27,833.78 468.53,833.75 474.75,822.56 480.93,800.21 487.10,777.86 493.32,766.67 499.42,722.00 505.57,694.01 511.66,649.25 517.79,615.67 523.92,582.14 529.95,520.71 535.97,459.19 542.09,425.60 548.17,380.82 554.35,363.98 560.45,324.72 566.60,302.28 572.83,296.66 579.01,279.83 585.25,279.82 591.49,279.81 597.74,279.80 603.96,274.19 610.20,274.18 616.45,274.17 622.69,274.16 628.93,274.15 635.18,274.14" fill="none" stroke="#1e1e1e" stroke-width="1.9" stroke-linejoin="round"/>
<defs><linearGradient id="fade" x1="0" y1="0" x2="0" y2="1"><stop offset="0" stop-color="#fff" stop-opacity="0"/><stop offset="0.12" stop-color="#fff" stop-opacity="0.55"/><stop offset="0.88" stop-color="#fff" stop-opacity="0.55"/><stop offset="1" stop-color="#fff" stop-opacity="0"/></linearGradient></defs>
<rect x="276" y="576" width="416" height="128" fill="url(#fade)"/>
<circle cx="595.4" cy="758.6" r="0.7" fill="#444"/>
<circle cx="159.9" cy="927.1" r="0.7" fill="#666"/>
<circle cx="209.5" cy="929.9" r="0.5" fill="#aaa"/>
<circle cx="458.8" cy="992.0" r="0.7" fill="#999"/>
<circle cx="514.6" cy="993.9" r="0.6" fill="#bbb"/>
</g>
</svg>
</body></html>
